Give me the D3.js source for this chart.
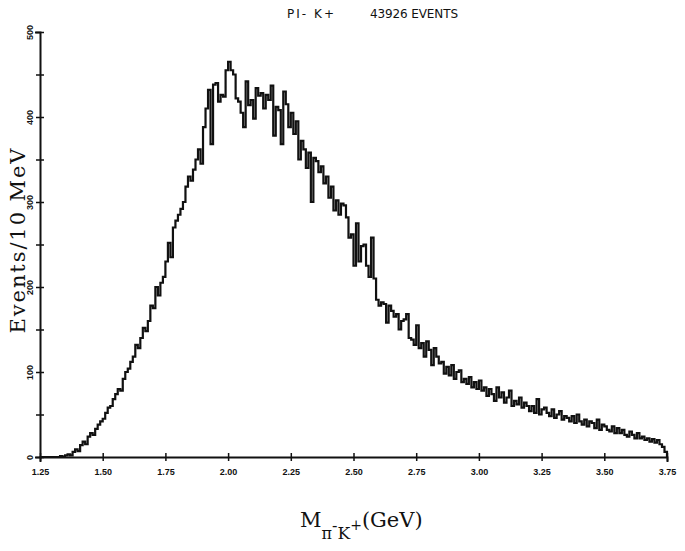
<!DOCTYPE html>
<html><head><meta charset="utf-8">
<script src="https://cdn.jsdelivr.net/npm/d3@7"></script>
<style>
html,body{margin:0;padding:0;background:#fff;}
svg{display:block;}
</style></head>
<body>
<script>
// ---- data ----
const binStart = 1.25;      // GeV, lower edge of first bin
const binWidth = 0.01;      // GeV (10 MeV)
const counts = [
// 1.25 - 1.34
0,0,0,0,0,0,0,0,1,0,
// 1.35 - 1.44
2,3,2,6,9,7,14,18,15,24,
// 1.45 - 1.54
28,26,33,38,42,45,52,58,60,68,
// 1.55 - 1.64
74,80,78,92,100,104,112,118,132,128,
// 1.65 - 1.74
140,152,148,160,178,175,200,190,205,212,
// 1.75 - 1.84
230,252,235,270,278,285,292,300,318,330,
// 1.85 - 1.94
325,338,350,362,345,388,410,432,368,438,
// 1.95 - 2.04
440,418,426,424,455,465,455,450,422,418,
// 2.05 - 2.14
405,388,442,414,420,398,434,425,428,410,
// 2.15 - 2.24
426,420,437,378,412,408,368,430,415,388,
// 2.25 - 2.34
405,380,395,350,372,362,340,358,300,352,
// 2.35 - 2.44
348,335,342,322,330,305,318,290,302,285,
// 2.45 - 2.54
298,296,282,258,262,225,275,230,248,250,
// 2.55 - 2.64
225,212,258,210,185,178,182,180,158,178,
// 2.65 - 2.74
172,165,168,150,160,162,168,140,138,132,
// 2.75 - 2.84
155,128,134,118,136,126,108,128,118,110,
// 2.85 - 2.94
112,98,106,96,108,92,100,102,88,92,
// 2.95 - 3.04
86,94,82,88,80,90,78,82,72,80,
// 3.05 - 3.14
74,66,82,70,76,64,70,78,60,66,
// 3.15 - 3.24
62,70,58,64,60,54,60,52,68,50,
// 3.25 - 3.34
56,58,52,48,56,46,50,54,44,48,
// 3.35 - 3.44
46,42,48,40,50,42,38,44,36,42,
// 3.45 - 3.54
40,34,44,32,38,36,32,30,36,28,
// 3.55 - 3.64
34,28,32,26,24,30,26,22,28,22,
// 3.65 - 3.74
24,20,22,18,21,17,20,15,12,6
];
const xTicks = [1.25,1.50,1.75,2.00,2.25,2.50,2.75,3.00,3.25,3.50,3.75];
const yTicks = [0,100,200,300,400,500];
const yMinorTicks = [50,150,250,350,450];
const titleLeft = "PI- K+";
const titleRight = "43926 EVENTS";
const yTitle = "Events/10 MeV";

// ---- layout ----
const W = 685, H = 551;
const X0 = 40, X1 = 667, Y0 = 457, Y1 = 32;

const svg = d3.select("body").append("svg").attr("width", W).attr("height", H);

const x = d3.scaleLinear().domain([1.25, 3.75]).range([X0, X1]);
const y = d3.scaleLinear().domain([0, 500]).range([Y0, Y1]);

// histogram outline
const pts = counts.map((c, i) => [binStart + i * binWidth, c]);
pts.push([binStart + counts.length * binWidth, counts[counts.length - 1]]);
pts.push([binStart + counts.length * binWidth, 0]);
const line = d3.line().x(d => x(d[0])).y(d => y(d[1])).curve(d3.curveStepAfter);
svg.append("path").datum(pts).attr("d", line)
  .attr("fill", "none").attr("stroke", "#111").attr("stroke-width", 2.2)
  .attr("stroke-linejoin", "miter");

// x axis
const gx = svg.append("g").attr("transform", `translate(0,${Y0})`)
  .call(d3.axisBottom(x).tickValues(xTicks).tickFormat(d3.format(".2f")).tickSize(5).tickPadding(5));
gx.select(".domain").attr("stroke", "#111").attr("stroke-width", 2);
gx.selectAll(".tick line").attr("y1", -4).attr("y2", 4).attr("stroke", "#111").attr("stroke-width", 1.5);
gx.selectAll(".tick text").attr("font-family", "Liberation Sans, Arial, sans-serif")
  .attr("font-weight", "bold").attr("font-size", 9).attr("fill", "#111").attr("dy", "0.9em");

// y axis
const gy = svg.append("g").attr("transform", `translate(${X0},0)`)
  .call(d3.axisLeft(y).tickValues(yTicks).tickFormat(d3.format("d")).tickSize(5));
gy.select(".domain").attr("stroke", "#111").attr("stroke-width", 2);
gy.selectAll(".tick line").attr("x1", -4).attr("x2", 4).attr("stroke", "#111").attr("stroke-width", 1.5);
gy.selectAll(".tick text")
  .attr("transform", "rotate(-90)").attr("x", 0).attr("y", -7).attr("dy", 0)
  .attr("text-anchor", "middle")
  .attr("font-family", "Liberation Sans, Arial, sans-serif")
  .attr("font-weight", "bold").attr("font-size", 9).attr("fill", "#111");

const gym = svg.append("g").attr("transform", `translate(${X0},0)`)
  .call(d3.axisLeft(y).tickValues(yMinorTicks).tickFormat("").tickSize(4));
gym.select(".domain").remove();
gym.selectAll(".tick line").attr("x1", -4).attr("x2", 4).attr("stroke", "#111").attr("stroke-width", 1.5);

// title
svg.append("text").attr("x", 287).attr("y", 18).text(titleLeft)
  .attr("textLength", 47).attr("lengthAdjust", "spacing")
  .attr("font-family", "DejaVu Sans, sans-serif").attr("font-size", 12).attr("fill", "#111");
svg.append("text").attr("x", 370).attr("y", 18).text(titleRight)
  .attr("textLength", 88).attr("lengthAdjust", "spacing")
  .attr("font-family", "DejaVu Sans, sans-serif").attr("font-size", 12).attr("fill", "#111");

// y title
svg.append("text").attr("transform", `translate(25,241) rotate(-90)`)
  .attr("text-anchor", "middle").text(yTitle)
  .attr("textLength", 185).attr("lengthAdjust", "spacing")
  .attr("font-family", "DejaVu Serif, Liberation Serif, serif").attr("font-size", 21).attr("fill", "#111");

// x title : M_{pi- K+} (GeV)
const xt = svg.append("text").attr("x", 300).attr("y", 527)
  .attr("font-family", "DejaVu Serif, Liberation Serif, serif").attr("font-size", 21).attr("fill", "#111");
xt.append("tspan").text("M");
xt.append("tspan").attr("dy", 12).attr("font-size", 16).text("\u03C0");
xt.append("tspan").attr("dy", -8).attr("font-size", 16).text("-");
xt.append("tspan").attr("dy", 8).attr("font-size", 17).text("K");
xt.append("tspan").attr("dy", -9).attr("font-size", 14).text("+");
xt.append("tspan").attr("dy", -3).text("(GeV)");
</script>
</body></html>
